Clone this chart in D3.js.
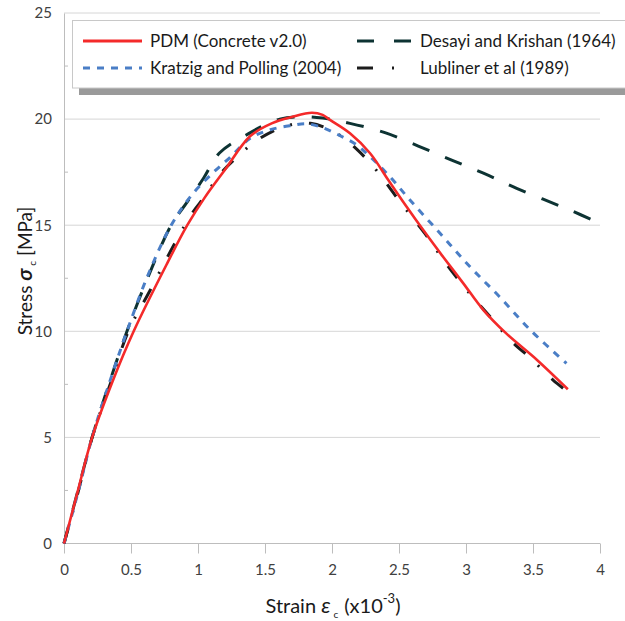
<!DOCTYPE html>
<html><head><meta charset="utf-8">
<script src="https://cdn.jsdelivr.net/npm/d3@7"></script>
<style>
html,body{margin:0;padding:0;background:#fff;}
svg{display:block;font-family:Lato,"Open Sans",sans-serif;}
</style></head>
<body>
<svg id="chart" width="625" height="621"></svg>
<script>
// ---- data ----
const xTicks = [0, 0.5, 1, 1.5, 2, 2.5, 3, 3.5, 4];
const xTickLabels = ["0", "0.5", "1", "1.5", "2", "2.5", "3", "3.5", "4"];
const yTicks = [0, 5, 10, 15, 20, 25];
const yMinorTicks = [2.5, 7.5, 12.5, 17.5, 22.5];

const seriesNames = ["PDM (Concrete v2.0)", "Kratzig and Polling (2004)", "Desayi and Krishan (1964)", "Lubliner et al (1989)"];

const pdmStrain = [0, 0.1, 0.21, 0.36, 0.52, 0.77, 0.92, 1.05, 1.2, 1.39, 1.55, 1.7, 1.85, 1.93, 1.985, 2.134, 2.284, 2.42, 2.557, 2.681, 2.83, 2.98, 3.13, 3.3, 3.53, 3.76];
const pdmStress = [0, 2.4, 5.0, 7.6, 10.0, 13.2, 15.0, 16.3, 17.6, 19.2, 19.8, 20.1, 20.3, 20.2, 19.96, 19.33, 18.39, 17.13, 15.87, 14.77, 13.5, 12.26, 11.0, 9.9, 8.65, 7.27];

const kpStrain = [0, 0.1, 0.21, 0.34, 0.47, 0.63, 0.8, 0.95, 1.1, 1.24, 1.39, 1.54, 1.7, 1.81, 1.93, 2.035, 2.18, 2.284, 2.43, 2.58, 2.806, 3.03, 3.25, 3.48, 3.75];
const kpStress = [0, 2.3, 5.0, 7.6, 10.0, 12.7, 15.0, 16.4, 17.4, 18.2, 19.1, 19.5, 19.7, 19.78, 19.6, 19.3, 18.8, 18.23, 17.3, 16.2, 14.62, 13.04, 11.63, 10.06, 8.49];

const dkStrain = [0, 0.1, 0.21, 0.34, 0.47, 0.63, 0.8, 0.92, 1.04, 1.16, 1.36, 1.61, 1.886, 2.134, 2.395, 2.644, 2.893, 3.13, 3.378, 3.776, 4.0];
const dkStress = [0, 2.4, 5.0, 7.6, 10.0, 12.6, 15.0, 16.1, 17.2, 18.4, 19.25, 20.0, 20.08, 19.8, 19.36, 18.73, 18.07, 17.45, 16.74, 15.71, 15.09];

const lubStrain = [0, 0.1, 0.21, 0.35, 0.48, 0.64, 0.84, 0.96, 1.05, 1.16, 1.29, 1.44, 1.64, 1.84, 2.035, 2.19, 2.34, 2.47, 2.595, 2.72, 2.84, 3.005, 3.196, 3.33, 3.49, 3.65, 3.76];
const lubStress = [0, 2.3, 5.0, 7.6, 10.0, 11.9, 14.3, 15.6, 16.35, 17.37, 18.2, 19.0, 19.64, 19.8, 19.33, 18.55, 17.52, 16.42, 15.4, 14.38, 13.28, 11.95, 10.57, 9.59, 8.68, 7.7, 7.15];

// ---- layout ----
const svg = d3.select("#chart");
const x = d3.scaleLinear().domain([0, 4]).range([64, 600]);
const y = d3.scaleLinear().domain([0, 25]).range([543.5, 13]);

const gridColor = "#d6d6d6", axisColor = "#bdbdbd", labelColor = "#404040";

// gridlines
svg.append("g").selectAll("line").data(yTicks.filter(d => d > 0)).join("line")
  .attr("x1", x(0)).attr("x2", x(4))
  .attr("y1", d => y(d)).attr("y2", d => y(d))
  .attr("stroke", gridColor).attr("stroke-width", 1);

// y axis
const yAxis = d3.axisLeft(y).tickValues(yTicks).tickSize(0).tickPadding(12).tickFormat(d3.format("d"));
const gy = svg.append("g").attr("transform", `translate(${x(0)},0)`).call(yAxis);
gy.select(".domain").attr("stroke", axisColor);
gy.selectAll("text").attr("font-size", 15).attr("fill", labelColor).attr("font-family", "Lato");
// minor ticks on y axis (inside)
svg.append("g").selectAll("line").data(yMinorTicks).join("line")
  .attr("x1", x(0)).attr("x2", x(0) + 4)
  .attr("y1", d => y(d)).attr("y2", d => y(d))
  .attr("stroke", axisColor);

// x axis
const xAxis = d3.axisBottom(x).tickValues(xTicks).tickSize(10).tickPadding(11)
  .tickFormat((d, i) => xTickLabels[i]);
const gx = svg.append("g").attr("transform", `translate(0,${y(0)})`).call(xAxis);
gx.select(".domain").attr("stroke", axisColor).attr("d", `M${x(0)},0H${x(4)}`);
gx.selectAll(".tick line").attr("stroke", axisColor);
gx.selectAll("text").attr("font-size", 15).attr("fill", labelColor).attr("font-family", "Lato");

// series
const styles = [
  {color: "#f42a2a", width: 2.6, dash: null},
  {color: "#4a7ec6", width: 3, dash: "7,7"},
  {color: "#0d3333", width: 3, dash: "18,17"},
  {color: "#1c1c1c", width: 3, dash: "15,17,2,17"}
];
const seriesData = [
  d3.zip(pdmStrain, pdmStress),
  d3.zip(kpStrain, kpStress),
  d3.zip(dkStrain, dkStress),
  d3.zip(lubStrain, lubStress)
];
const line = d3.line().x(d => x(d[0])).y(d => y(d[1])).curve(d3.curveCatmullRom.alpha(0.5));
const drawOrder = [2, 3, 1, 0];
drawOrder.forEach(i => {
  svg.append("path").datum(seriesData[i])
    .attr("d", line).attr("fill", "none")
    .attr("stroke", styles[i].color).attr("stroke-width", styles[i].width)
    .attr("stroke-dasharray", styles[i].dash)
    .attr("stroke-linejoin", "round");
});

// legend
const lg = svg.append("g");
lg.append("rect").attr("x", 79).attr("y", 25).attr("width", 600).attr("height", 70).attr("fill", "#9a9a9a");
lg.append("rect").attr("x", 72.5).attr("y", 20.5).attr("width", 600).attr("height", 67.5)
  .attr("fill", "#fff").attr("stroke", "#c8c8c8");
const legPos = [
  {lx: 83, len: 59, tx: 150, y: 41},
  {lx: 83, len: 59, tx: 150, y: 68},
  {lx: 357, len: 54, tx: 420, y: 41},
  {lx: 357, len: 54, tx: 420, y: 68}
];
seriesNames.forEach((name, i) => {
  const p = legPos[i];
  lg.append("line").attr("x1", p.lx).attr("x2", p.lx + p.len).attr("y1", p.y).attr("y2", p.y)
    .attr("stroke", styles[i].color).attr("stroke-width", 3)
    .attr("stroke-dasharray", i === 3 ? "16,19,2,19,2,19" : (i === 2 ? "17,20" : styles[i].dash));
  lg.append("text").attr("x", p.tx).attr("y", p.y).attr("dy", "0.35em")
    .attr("font-size", 17).attr("fill", "#1a1a1a").text(name);
});

// x axis title
const xt = svg.append("text").attr("x", 333).attr("y", 613).attr("text-anchor", "middle")
  .attr("font-size", 20).attr("fill", "#1a1a1a");
xt.append("tspan").text("Strain ");
xt.append("tspan").attr("font-style", "italic").attr("font-size", 22).text("ε");
xt.append("tspan").attr("font-size", 10).attr("dx", 3).attr("dy", 5).text("c");
xt.append("tspan").attr("dx", 6).attr("dy", -5).text("(x10");
xt.append("tspan").attr("font-size", 13).attr("dy", -10).text("-3");
xt.append("tspan").attr("dy", 10).text(")");

// y axis title
const yt = svg.append("text").attr("transform", "translate(32,271) rotate(-90)")
  .attr("text-anchor", "middle").attr("font-size", 19).attr("fill", "#1a1a1a");
yt.append("tspan").text("Stress ");
yt.append("tspan").attr("font-style", "italic").attr("font-weight", "bold").attr("font-size", 21).text("σ");
yt.append("tspan").attr("font-size", 10).attr("dx", 3).attr("dy", 4).text("c");
yt.append("tspan").attr("dx", 5).attr("dy", -4).text("[MPa]");
</script>
</body></html>
